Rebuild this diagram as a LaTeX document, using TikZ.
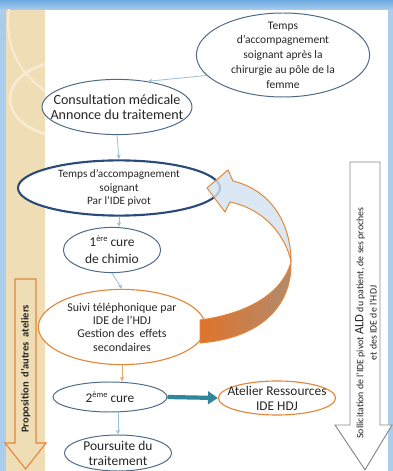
\documentclass[tikz,border=0pt]{standalone}
\usepackage{fontspec}
\setmainfont{Carlito}
\usepackage{tikz}
\usetikzlibrary{positioning, arrows.meta, shapes.geometric}
\definecolor{parcBlue}{HTML}{4E6A88}
\definecolor{parcNavy}{HTML}{2A4A7A}
\definecolor{parcOrange}{HTML}{E3873A}
\definecolor{parcTeal}{HTML}{31859C}
\definecolor{parcLink}{HTML}{9CC3D5}
\definecolor{parcText}{HTML}{262626}
\definecolor{parcSky}{HTML}{A9CDEB}
\definecolor{parcBand}{HTML}{6FAAE2}
\definecolor{parcTan}{HTML}{EFDDB6}
\definecolor{parcTanLight}{HTML}{F7EBD2}
\definecolor{parcIce}{HTML}{D3E2EF}
\definecolor{parcRust}{HTML}{E0742A}
\definecolor{parcDust}{HTML}{B08A70}
\definecolor{parcGray}{HTML}{8A8A8A}

\begin{document}
\begin{tikzpicture}[
    bubble/.style={
        ellipse, draw=parcBlue, line width=0.7pt, fill=white,
        inner sep=-20pt, text=parcText, align=center
    },
    pivotbub/.style={bubble, draw=parcNavy, line width=1.5pt},
    orangebub/.style={bubble, draw=parcOrange, line width=0.8pt},
    link/.style={-{Stealth[length=3.5pt, width=3pt]}, draw=parcLink, line width=0.6pt},
    linkor/.style={link, draw=parcOrange!75},
    thickarr/.style={-{Triangle[length=7pt, width=9pt]}, draw=parcTeal, line width=3pt},
    sidetext/.style={rotate=90, text=parcText, align=center, inner sep=0pt},
]
\useasboundingbox (0,0) rectangle (9.825,11.775);

%% =================================================================
%% Background (slide frame)
%% =================================================================
\fill[white] (0,0) rectangle (9.825,11.775);
\fill[top color=parcBand, bottom color=parcSky] (0,11.525) rectangle (9.825,11.775);
\fill[parcSky] (0,0) rectangle (0.15,11.525);
\fill[parcSky] (9.7,0) rectangle (9.825,11.525);
\fill[parcTan] (0.15,0) rectangle (1.125,11.525);
\begin{scope}
    \clip (0.15,0) rectangle (1.125,11.525);
    \draw[parcTanLight, line width=2pt] (1.7,9.3) ellipse (1.45cm and 0.95cm);
    \draw[parcTanLight, line width=1.5pt] (2.2,11.2) circle (2.0cm);
\end{scope}

%% =================================================================
%% Main column
%% =================================================================
\node[bubble, minimum width=4.33cm, minimum height=2.1cm,
      font=\fontsize{8.2}{10.5}\selectfont] (chir)
    at (7.075, 10.4)
    {Temps\\d’accompagnement\\soignant après la\\chirurgie au pôle de la\\femme};

\node[bubble, minimum width=3.75cm, minimum height=1.38cm,
      font=\fontsize{10}{10.5}\selectfont] (consult)
    at (2.925, 9.1)
    {Consultation médicale\\Annonce du traitement};

\node[pivotbub, minimum width=5.05cm, minimum height=1.38cm,
      font=\fontsize{8}{9.5}\selectfont] (pivot)
    at (2.975, 7.075)
    {Temps d’accompagnement\\soignant\\Par l’IDE pivot};

\node[bubble, minimum width=2.43cm, minimum height=1.13cm,
      font=\fontsize{9.6}{12}\selectfont] (cure1)
    at (2.8, 5.525)
    {1{\fontsize{6}{6}\selectfont\raisebox{3.5pt}{ère}} cure\\de chimio};

\node[orangebub, minimum width=4.18cm, minimum height=1.88cm,
      font=\fontsize{8.5}{9.5}\selectfont] (suivi)
    at (3.05, 3.6)
    {Suivi téléphonique par\\IDE de l’HDJ\\Gestion des\ \ effets\\secondaires};

\node[bubble, minimum width=2.85cm, minimum height=0.75cm,
      font=\fontsize{9.5}{11}\selectfont] (cure2)
    at (2.75, 1.85)
    {2{\fontsize{6}{6}\selectfont\raisebox{3.5pt}{ème}} cure};

\node[orangebub, minimum width=2.93cm, minimum height=0.85cm,
      font=\fontsize{9.5}{10.7}\selectfont] (atelier)
    at (6.925, 1.825)
    {Atelier Ressources\\IDE HDJ};

\node[bubble, minimum width=2.68cm, minimum height=0.9cm,
      font=\fontsize{9.6}{10.7}\selectfont] (suite)
    at (2.95, 0.45)
    {Poursuite du\\traitement};

%% Connectors
\draw[link] (chir.195) -- (consult.40);
\draw[link] (consult.south) -- (pivot.north);
\draw[link] (pivot.south) -- (pivot.south |- cure1.north);
\draw[link] (cure1.south) -- (suivi.north);
\draw[linkor] (suivi.south) -- (suivi.south |- cure2.north);
\draw[link] (suite.north |- cure2.south) -- (suite.north);
\draw[thickarr] (cure2.east) -- (atelier.west);

%% =================================================================
%% Loop arrow back to the IDE pivot
%% =================================================================
\draw[parcOrange, line width=0.7pt, left color=parcRust, right color=parcDust]
    (7.275,5.225) .. controls (7.30,4.15) and (6.55,3.325) .. (5.00,3.20)
    -- (5.00,3.775) .. controls (6.125,3.925) and (7.05,4.40) .. (7.275,5.225)
    -- cycle;
\draw[parcOrange, line width=0.7pt, fill=parcIce, fill opacity=0.8]
    (5.175,7.075) -- (5.70,7.525) -- (5.825,7.25)
    .. controls (6.75,7.025) and (7.275,6.225) .. (7.275,5.225)
    .. controls (7.175,5.775) and (6.70,6.525) .. (5.75,6.725)
    -- (5.625,6.475) -- cycle;

%% =================================================================
%% Side arrows
%% =================================================================
\draw[parcOrange, line width=0.8pt, fill=parcTan]
    (0.375,4.8) -- (0.9,4.8) -- (0.9,0.7) -- (1.15,0.7) -- (0.64,0.05)
    -- (0.125,0.7) -- (0.375,0.7) -- cycle;
\node[sidetext, font=\fontsize{7.5}{9}\selectfont\bfseries] (autres)
    at (0.64, 2.55)
    {Proposition\ \ d’autres\ \ ateliers};

\draw[parcGray, line width=0.7pt, fill=white]
    (8.75,7.725) -- (9.5,7.725) -- (9.5,1.15) -- (9.8,1.15) -- (9.125,0.03)
    -- (8.375,1.15) -- (8.75,1.15) -- cycle;
\node[sidetext, font=\fontsize{7}{9.3}\selectfont] (sollic)
    at (9.15, 3.7)
    {Sollicitation de l’IDE pivot {\fontsize{9}{9}\selectfont ALD} du patient, de ses proches\\et des IDE de l’HDJ};

\end{tikzpicture}
\end{document}
